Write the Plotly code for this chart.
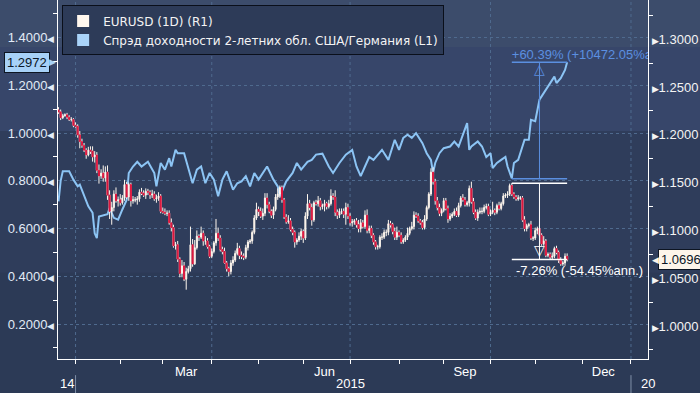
import pandas as pd
import plotly.graph_objects as go

# ---------------- DATA ----------------
dates = pd.bdate_range("2014-12-22", "2015-11-20")

eur_first_open = 1.2260
eur_close = [
    1.2240, 1.2180, 1.2200, 1.2210, 1.2185,
    1.2160, 1.2160, 1.2100, 1.2090, 1.2000,
    1.1930, 1.1890, 1.1840, 1.1790, 1.1840,
    1.1830, 1.1770, 1.1790, 1.1630, 1.1570,
    1.1600, 1.1550, 1.1610, 1.1370, 1.1200,
    1.1240, 1.1380, 1.1310, 1.1320, 1.1290,
    1.1340, 1.1480, 1.1350, 1.1480, 1.1310,
    1.1320, 1.1320, 1.1330, 1.1400, 1.1390,
    1.1370, 1.1410, 1.1400, 1.1370, 1.1380,
    1.1330, 1.1340, 1.1360, 1.1200, 1.1190,
    1.1180, 1.1180, 1.1080, 1.1030, 1.0840,
    1.0850, 1.0700, 1.0550, 1.0630, 1.0490,
    1.0570, 1.0600, 1.0850, 1.0650, 1.0820,
    1.0940, 1.0930, 1.0970, 1.0890, 1.0890,
    1.0830, 1.0730, 1.0780, 1.0870, 1.0970,
    1.0920, 1.0800, 1.0780, 1.0660, 1.0600,
    1.0570, 1.0660, 1.0690, 1.0760, 1.0810,
    1.0740, 1.0730, 1.0720, 1.0820, 1.0880,
    1.0890, 1.0980, 1.1130, 1.1220, 1.1200,
    1.1150, 1.1180, 1.1340, 1.1270, 1.1200,
    1.1160, 1.1220, 1.1350, 1.1380, 1.1450,
    1.1320, 1.1140, 1.1090, 1.1100, 1.1010,
    1.0980, 1.0880, 1.0900, 1.0940, 1.0990,
    1.0920, 1.1150, 1.1280, 1.1240, 1.1110,
    1.1290, 1.1280, 1.1310, 1.1250, 1.1260,
    1.1280, 1.1250, 1.1280, 1.1360, 1.1350,
    1.1190, 1.1160, 1.1200, 1.1200, 1.1170,
    1.1240, 1.1150, 1.1080, 1.1090, 1.1100,
    1.1060, 1.1020, 1.1080, 1.1040, 1.1160,
    1.1000, 1.1020, 1.0950, 1.0880, 1.0830,
    1.0830, 1.0930, 1.0930, 1.0980, 1.0980,
    1.1070, 1.1060, 1.0990, 1.0930, 1.0980,
    1.0950, 1.0880, 1.0900, 1.0930, 1.0970,
    1.1020, 1.1040, 1.1160, 1.1150, 1.1100,
    1.1080, 1.1030, 1.1120, 1.1240, 1.1380,
    1.1610, 1.1510, 1.1310, 1.1240, 1.1180,
    1.1210, 1.1310, 1.1230, 1.1120, 1.1150,
    1.1170, 1.1200, 1.1160, 1.1260, 1.1340,
    1.1320, 1.1270, 1.1290, 1.1440, 1.1300,
    1.1190, 1.1130, 1.1190, 1.1200, 1.1200,
    1.1240, 1.1250, 1.1170, 1.1190, 1.1210,
    1.1190, 1.1260, 1.1230, 1.1280, 1.1360,
    1.1370, 1.1380, 1.1470, 1.1380, 1.1350,
    1.1330, 1.1340, 1.1340, 1.1110, 1.1020,
    1.1050, 1.1060, 1.0920, 1.0920, 1.1000,
    1.1020, 1.0950, 1.0860, 1.0890, 1.0740,
    1.0750, 1.0720, 1.0730, 1.0810, 1.0770,
    1.0690, 1.0650, 1.0660, 1.0730, 1.0696,
]
# upper / lower wick beyond the candle body, in pips
eur_hi_pips = [
    30, 25, 20, 15, 20,   20, 25, 15, 30, 20,   40, 30, 25, 20, 35,
    40, 50, 40, 30, 60,   40, 80, 60, 70, 50,   60, 40, 70, 35, 60,
    30, 50, 30, 20, 20,   40, 30, 30, 30, 45,   30, 30, 25, 20, 45,
    30, 35, 40, 20, 40,   40, 30, 30, 45, 30,   30, 40, 20, 60, 40,
    40, 30, 190, 60, 80,  60, 20, 70, 30, 50,   30, 20, 30, 20, 150,
    60, 30, 30, 40, 20,   20, 30, 40, 30, 60,   30, 40, 30, 30, 20,
    20, 20, 30, 70, 30,   40, 50, 50, 50, 30,   20, 30, 30, 60, 20,
    20, 20, 30, 60, 30,   30, 20, 20, 40, 30,   20, 40, 100, 40, 40,
    20, 30, 50, 30, 20,   40, 20, 40, 70, 30,   70, 30, 30, 30, 30,
    50, 40, 30, 30, 20,   30, 50, 40, 30, 50,   60, 30, 30, 20, 20,
    20, 20, 40, 30, 30,   40, 30, 20, 40, 60,   20, 30, 20, 20, 60,
    20, 50, 40, 30, 30,   20, 30, 40, 20, 20,   40, 50, 30, 40, 40,
    20, 30, 30, 30, 30,   20, 30, 40, 30, 20,   40, 30, 20, 30, 70,
    40, 30, 30, 40, 40,   30, 30, 30, 30, 90,   20, 20, 40, 20, 30,
    20, 30, 20, 25, 20,   20, 30, 20, 20, 40,   20, 20, 40, 20, 30,
    20, 40, 20, 50, 20,   20, 20, 40, 20, 30,   20, 30, 20, 30, 30,
]
eur_lo_pips = [
    20, 25, 15, 10, 20,   15, 20, 20, 15, 30,   70, 25, 20, 40, 15,
    30, 50, 60, 30, 80,   30, 40, 40, 50, 80,   140, 40, 20, 60, 30,
    20, 30, 20, 40, 60,   30, 25, 50, 30, 20,   20, 40, 30, 40, 30,
    20, 40, 30, 20, 15,   20, 30, 20, 40, 20,   40, 30, 40, 40, 20,
    110, 20, 30, 30, 10,  20, 40, 20, 50, 40,   20, 20, 20, 20, 30,
    30, 20, 30, 10, 30,   50, 30, 30, 20, 20,   40, 30, 30, 20, 30,
    20, 30, 20, 20, 50,   20, 40, 30, 40, 20,   30, 40, 20, 30, 40,
    30, 20, 20, 20, 20,   30, 60, 30, 20, 40,   50, 20, 30, 30, 60,
    20, 20, 30, 40, 30,   60, 30, 20, 20, 30,   40, 40, 30, 30, 40,
    110, 30, 30, 40, 30,  30, 40, 40, 20, 20,   30, 30, 30, 30, 30,
    30, 20, 30, 20, 40,   30, 30, 30, 30, 30,   20, 20, 20, 20, 30,
    20, 20, 30, 20, 20,   20, 20, 20, 20, 20,   20, 30, 40, 30, 30,
    30, 20, 20, 40, 20,   20, 20, 20, 20, 20,   20, 20, 20, 40, 20,
    20, 20, 30, 20, 30,   20, 20, 20, 20, 20,   30, 20, 20, 20, 20,
    20, 30, 20, 20, 20,   20, 20, 20, 20, 30,   30, 20, 20, 30, 20,
    40, 20, 20, 20, 20,   20, 20, 20, 20, 20,   30, 20, 20, 30, 20,
]

spread_dates = [
    "2014-12-22", "2014-12-23", "2014-12-24", "2014-12-26", "2014-12-29", "2014-12-31",
    "2015-01-02", "2015-01-05", "2015-01-07", "2015-01-09", "2015-01-13", "2015-01-14",
    "2015-01-15", "2015-01-16", "2015-01-22", "2015-01-23", "2015-01-27", "2015-01-29",
    "2015-02-02", "2015-02-04", "2015-02-05", "2015-02-09", "2015-02-11", "2015-02-13",
    "2015-02-18", "2015-02-23", "2015-02-24", "2015-02-26", "2015-03-02", "2015-03-04",
    "2015-03-05", "2015-03-09", "2015-03-10", "2015-03-13", "2015-03-17", "2015-03-19",
    "2015-03-23", "2015-03-25", "2015-03-27", "2015-03-31", "2015-04-02", "2015-04-06",
    "2015-04-08", "2015-04-10", "2015-04-15", "2015-04-17", "2015-04-21", "2015-04-23",
    "2015-04-27", "2015-04-29", "2015-05-01", "2015-05-07", "2015-05-12", "2015-05-14",
    "2015-05-15", "2015-05-20", "2015-05-25", "2015-05-27", "2015-05-29", "2015-06-03",
    "2015-06-05", "2015-06-09", "2015-06-12", "2015-06-17", "2015-06-19", "2015-06-24",
    "2015-06-29", "2015-07-02", "2015-07-06", "2015-07-08", "2015-07-10", "2015-07-14",
    "2015-07-16", "2015-07-22", "2015-07-27", "2015-07-30", "2015-08-03", "2015-08-05",
    "2015-08-07", "2015-08-11", "2015-08-13", "2015-08-18", "2015-08-20", "2015-08-24",
    "2015-08-25", "2015-08-26", "2015-08-28", "2015-09-01", "2015-09-04", "2015-09-08",
    "2015-09-10", "2015-09-14", "2015-09-16", "2015-09-17", "2015-09-18", "2015-09-23",
    "2015-09-25", "2015-09-29", "2015-10-01", "2015-10-02", "2015-10-06", "2015-10-08",
    "2015-10-12", "2015-10-13", "2015-10-15", "2015-10-16", "2015-10-20", "2015-10-23",
    "2015-10-27", "2015-10-28", "2015-10-30", "2015-11-03", "2015-11-05", "2015-11-10",
    "2015-11-12", "2015-11-13", "2015-11-17", "2015-11-19", "2015-11-20",
]
spread_vals = [
    0.714, 0.800, 0.840, 0.840, 0.840, 0.805,
    0.777, 0.784, 0.742, 0.693, 0.666, 0.580,
    0.560, 0.650, 0.660, 0.686, 0.645, 0.637,
    0.680, 0.720, 0.833, 0.860, 0.880, 0.860,
    0.880, 0.833, 0.777, 0.875, 0.847, 0.895,
    0.860, 0.930, 0.916, 0.916, 0.853, 0.790,
    0.847, 0.860, 0.790, 0.833, 0.805, 0.735,
    0.805, 0.840, 0.763, 0.790, 0.798, 0.820,
    0.777, 0.833, 0.805, 0.860, 0.805, 0.777,
    0.735, 0.798, 0.833, 0.875, 0.847, 0.880,
    0.888, 0.910, 0.914, 0.860, 0.833, 0.875,
    0.910, 0.930, 0.860, 0.820, 0.860, 0.900,
    0.888, 0.930, 0.888, 0.972, 0.930, 0.980,
    0.993, 0.980, 1.000, 0.958, 0.916, 0.888,
    0.833, 0.875, 0.916, 0.937, 0.944, 0.965,
    0.944, 0.993, 1.042, 0.930, 0.944, 0.965,
    0.944, 0.900, 0.916, 0.853, 0.875, 0.888,
    0.900, 0.860, 0.810, 0.875, 0.888, 0.972,
    0.972, 1.056, 1.050, 1.140, 1.167, 1.210,
    1.237, 1.210, 1.230, 1.265, 1.2972,
]

left_ticks = [0.2, 0.4, 0.6, 0.8, 1.0, 1.2, 1.4]
left_minor = [0.1, 0.3, 0.5, 0.7, 0.9, 1.1, 1.3, 1.5]
right_ticks = [1.00, 1.05, 1.10, 1.15, 1.20, 1.25, 1.30]
right_minor = [0.975, 1.025, 1.075, 1.125, 1.175, 1.225, 1.275, 1.325]
month_label_dates = ["2015-03-16", "2015-06-15", "2015-09-15", "2015-12-15"]
month_labels = ["Mar", "Jun", "Sep", "Dec"]
quarter_dates = ["2015-01-01", "2015-04-01", "2015-07-01", "2015-10-01", "2016-01-01"]
year_sep_dates = ["2015-01-01", "2016-01-01"]

spread_move_dates = ["2015-10-15", "2015-11-20"]
spread_move_vals = [0.8088, 1.2972]
spread_move_text = "+60.39% (+10472.05%ann.)"
eur_move_dates = ["2015-10-15", "2015-11-20"]
eur_move_vals = [1.1495, 1.0696]
eur_move_text = "-7.26% (-54.45%ann.)"

spread_last = 1.2972
eur_last = 1.0696

# ---------------- STYLE ----------------
CREAM = "#fff7ee"
RED = "#dc143c"
BLUE_LINE = "#8cc4f4"
BLUE_LEG = "#a9d3f9"
BLUE_ANN = "#5b8fe0"
FONT = "Liberation Sans, Arial, sans-serif"

eur_open = [eur_first_open] + eur_close[:-1]
eur_high = [max(o, c) + h / 10000 for o, c, h in zip(eur_open, eur_close, eur_hi_pips)]
eur_low = [min(o, c) - l / 10000 for o, c, l in zip(eur_open, eur_close, eur_lo_pips)]
down = [c < o for o, c in zip(eur_open, eur_close)]
d_dates = [d for d, f in zip(dates, down) if f]
d_open = [o for o, f in zip(eur_open, down) if f]
d_close = [c for c, f in zip(eur_close, down) if f]

fig = go.Figure()

fig.add_trace(go.Scatter(
    x=spread_dates, y=spread_vals, mode="lines",
    line=dict(color=BLUE_LINE, width=2), yaxis="y", showlegend=False))

# spread move bracket text (clipped by plot area)
fig.add_trace(go.Scatter(
    x=[spread_move_dates[0]], y=[spread_move_vals[1]], mode="text",
    text=[spread_move_text], textposition="top right",
    textfont=dict(color=BLUE_ANN, size=13, family=FONT), yaxis="y", showlegend=False))

# candles: white wicks and bodies
fig.add_trace(go.Candlestick(
    x=dates, open=eur_open, high=eur_high, low=eur_low, close=eur_close,
    increasing=dict(line=dict(color=CREAM, width=1), fillcolor=CREAM),
    decreasing=dict(line=dict(color=CREAM, width=1), fillcolor=CREAM),
    yaxis="y2", showlegend=False, whiskerwidth=0))
# red bodies for down days
fig.add_trace(go.Candlestick(
    x=d_dates, open=d_open, high=d_open, low=d_close, close=d_close,
    increasing=dict(line=dict(color=RED, width=1), fillcolor=RED),
    decreasing=dict(line=dict(color=RED, width=1), fillcolor=RED),
    yaxis="y2", showlegend=False))

# legend entries
fig.add_trace(go.Scatter(x=[None], y=[None], mode="markers", name="EURUSD (1D) (R1)",
                         marker=dict(symbol="square", size=12, color=CREAM)))
fig.add_trace(go.Scatter(x=[None], y=[None], mode="markers",
                         name="Спрэд доходности 2-летних обл. США/Германия (L1)",
                         marker=dict(symbol="square", size=12, color=BLUE_LEG)))

shapes = []
# background bands
bands = [(0.869, 1.2, "#3c4c6b"), (0.635, 0.869, "#37466a"), (0.24, 0.635, "#2f3d5b")]
for y0, y1, col in bands:
    shapes.append(dict(type="rect", xref="paper", yref="paper", x0=-0.2, x1=1.2,
                       y0=y0, y1=y1, fillcolor=col, line=dict(width=0), layer="below"))
# quarter grid lines
for q in quarter_dates:
    shapes.append(dict(type="line", xref="x", yref="paper", x0=q, x1=q, y0=0, y1=1,
                       line=dict(color="#4f6a8e", width=1, dash="3px,3px"), layer="below"))
# year separators in axis area
for q in year_sep_dates:
    shapes.append(dict(type="line", xref="x", yref="paper", x0=q, x1=q, y0=-0.045, y1=-0.1,
                       line=dict(color="#8090a8", width=1)))

# measurement brackets
idx0 = list(dates).index(pd.Timestamp(spread_move_dates[0]))
idx1 = list(dates).index(pd.Timestamp(spread_move_dates[1]))
mid = dates[(idx0 + idx1) // 2]
for v in spread_move_vals:
    shapes.append(dict(type="line", xref="x", yref="y", x0=spread_move_dates[0],
                       x1=spread_move_dates[1], y0=v, y1=v, line=dict(color=BLUE_ANN, width=1.5)))
shapes.append(dict(type="line", xref="x", yref="y", x0=mid, x1=mid,
                   y0=spread_move_vals[0], y1=spread_move_vals[1], line=dict(color=BLUE_ANN, width=1)))
for v in eur_move_vals:
    shapes.append(dict(type="line", xref="x", yref="y2", x0=eur_move_dates[0],
                       x1=eur_move_dates[1], y0=v, y1=v, line=dict(color="#ffffff", width=1.5)))
shapes.append(dict(type="line", xref="x", yref="y2", x0=mid, x1=mid,
                   y0=eur_move_vals[0], y1=eur_move_vals[1], line=dict(color="#ffffff", width=1)))

annotations = [
    dict(x=mid, y=spread_move_vals[1], xref="x", yref="y", text="△", showarrow=False,
         yanchor="top", font=dict(color=BLUE_ANN, size=14), borderpad=0, yshift=2),
    dict(x=mid, y=eur_move_vals[1], xref="x", yref="y2", text="▽", showarrow=False,
         yanchor="bottom", font=dict(color="#ffffff", size=14), borderpad=0, yshift=1),
    dict(x=eur_move_dates[0], y=eur_move_vals[1], xref="x", yref="y2", text=eur_move_text,
         showarrow=False, xanchor="left", yanchor="top", yshift=-1, xshift=2,
         font=dict(color="#ffffff", size=13, family=FONT)),
    # last value labels
    dict(x=0, xref="paper", xanchor="right", xshift=-8, y=spread_last, yref="y",
         text=f"{spread_last:.4f}", showarrow=False, bgcolor="#a7d1f7",
         bordercolor="#0d1522", borderwidth=1, borderpad=2,
         font=dict(size=13, color="#0b1626", family=FONT)),
    dict(x=0, xref="paper", xanchor="right", xshift=-1, y=spread_last, yref="y",
         text="▶", showarrow=False, borderpad=0, font=dict(size=9, color="#a7d1f7")),
    dict(x=1, xref="paper", xanchor="left", xshift=10, y=eur_last, yref="y2",
         text=f"{eur_last:.4f}", showarrow=False, bgcolor="#fdf5ea",
         bordercolor="#0d1522", borderwidth=1, borderpad=2,
         font=dict(size=13, color="#0b1626", family=FONT)),
    dict(x=1, xref="paper", xanchor="left", xshift=3, y=eur_last, yref="y2",
         text="◀", showarrow=False, borderpad=0, font=dict(size=9, color="#fdf5ea")),
    # year row
    dict(x="2015-07-01", xref="x", y=-0.067, yref="paper", text="2015", showarrow=False,
         font=dict(size=13, color="#ffffff", family=FONT), yanchor="middle"),
    dict(x=0, xref="paper", xanchor="left", y=-0.067, yref="paper", text="14", showarrow=False,
         font=dict(size=13, color="#ffffff", family=FONT), yanchor="middle"),
    dict(x=0.985, xref="paper", xanchor="left", y=-0.067, yref="paper", text="20", showarrow=False,
         font=dict(size=13, color="#ffffff", family=FONT), yanchor="middle"),
]

tri_small = '<span style="font-size:9px">{}</span>'
fig.update_layout(
    width=700, height=393,
    margin=dict(l=58, r=52, t=0, b=34),
    paper_bgcolor="#2c3a56", plot_bgcolor="rgba(0,0,0,0)",
    font=dict(family=FONT, color="#ffffff", size=13),
    shapes=shapes, annotations=annotations,
    showlegend=True,
    legend=dict(x=0.007, y=0.985, xanchor="left", yanchor="top",
                bgcolor="#2d3b58", bordercolor="#0a0f1a", borderwidth=1,
                font=dict(size=12, color="#f4f4f4", family="DejaVu Sans, sans-serif"),
                itemsizing="trace", tracegroupgap=0),
    xaxis=dict(
        type="date", range=["2014-12-19 18:00", "2016-01-13"],
        rangebreaks=[dict(bounds=["sat", "mon"])],
        rangeslider=dict(visible=False),
        showline=True, linecolor="#ffffff", linewidth=1,
        tickmode="array", tickvals=month_label_dates, ticktext=month_labels,
        ticks="", showgrid=False, zeroline=False,
        tickfont=dict(size=13, color="#ffffff"),
        minor=dict(dtick="M1", tick0="2015-01-01", ticks="outside", ticklen=4,
                   tickcolor="#ffffff", showgrid=False),
    ),
    yaxis=dict(
        range=[0.0533, 1.558], side="left",
        tickmode="array", tickvals=left_ticks,
        ticktext=[f"{v:.4f}" + tri_small.format("◀") for v in left_ticks],
        ticks="", showline=True, linecolor="#ffffff", linewidth=1,
        showgrid=True, gridcolor="#4f6a8e", gridwidth=1, griddash="3px,3px",
        zeroline=False, tickfont=dict(size=13, color="#e2ebf7"),
        minor=dict(tickvals=left_minor, ticks="outside", ticklen=4,
                   tickcolor="#ffffff", showgrid=False),
    ),
    yaxis2=dict(
        range=[0.9655, 1.3411], side="right", overlaying="y",
        tickmode="array", tickvals=right_ticks,
        ticktext=[tri_small.format("▶") + f"{v:.4f}" for v in right_ticks],
        ticks="", showline=True, linecolor="#ffffff", linewidth=1,
        showgrid=False, zeroline=False, tickfont=dict(size=13, color="#f4f4f4"),
        minor=dict(tickvals=right_minor, ticks="outside", ticklen=4,
                   tickcolor="#ffffff", showgrid=False),
    ),
)

fig.write_html("out.html", config={"displayModeBar": False},
               post_script="document.body.style.margin='0';")
